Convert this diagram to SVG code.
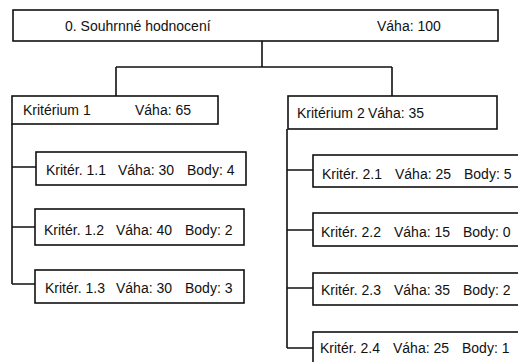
<svg xmlns="http://www.w3.org/2000/svg" width="518" height="362" viewBox="0 0 518 362">
<style>
.box{fill:#fff;stroke:#111;stroke-width:1.6}
.ln{fill:none;stroke:#111;stroke-width:1.6}
text{font-family:"Liberation Sans",Arial,sans-serif;font-size:14px;fill:#111}
</style>
<rect width="518" height="362" fill="#fff"/>
<g id="connectors">
<path class="ln" d="M262,41 V67 M116,67 H392 M116,67 V96 M392,67 V96"/>
<path class="ln" d="M12,124 V284 M12,167 H36 M12,227 H35 M12,284 H35"/>
<path class="ln" d="M287,129 V348 M287,170 H313 M287,230 H313 M287,288 H313 M287,348 H313"/>
</g>
<g id="n0">
<rect class="box" x="13" y="10" width="485" height="31"/>
<text x="65" y="31">0. Souhrnné hodnocení</text>
<text x="377" y="31">Váha: 100</text>
</g>
<g id="k1">
<rect class="box" x="12" y="96" width="206" height="28"/>
<text x="23" y="115">Kritérium 1</text>
<text x="135" y="115">Váha: 65</text>
</g>
<g id="k2">
<rect class="box" x="288" y="96" width="209" height="33"/>
<text x="297" y="118">Kritérium 2</text>
<text x="368" y="118">Váha: 35</text>
</g>
<g id="k11">
<rect class="box" x="36" y="152" width="210" height="33"/>
<text x="46" y="175">Kritér. 1.1</text><text x="118" y="175">Váha: 30</text><text x="187" y="175">Body: 4</text>
</g>
<g id="k12">
<rect class="box" x="35" y="209" width="209" height="36"/>
<text x="44" y="235">Kritér. 1.2</text><text x="116" y="235">Váha: 40</text><text x="185" y="235">Body: 2</text>
</g>
<g id="k13">
<rect class="box" x="35" y="270" width="209" height="33"/>
<text x="45" y="293">Kritér. 1.3</text><text x="116" y="293">Váha: 30</text><text x="185" y="293">Body: 3</text>
</g>
<g id="k21">
<rect class="box" x="313" y="155" width="220" height="32"/>
<text x="322" y="179">Kritér. 2.1</text><text x="395" y="179">Váha: 25</text><text x="464" y="179">Body: 5</text>
</g>
<g id="k22">
<rect class="box" x="313" y="213" width="220" height="33"/>
<text x="321" y="237">Kritér. 2.2</text><text x="394" y="237">Váha: 15</text><text x="463" y="237">Body: 0</text>
</g>
<g id="k23">
<rect class="box" x="313" y="273" width="220" height="32"/>
<text x="321" y="295">Kritér. 2.3</text><text x="394" y="295">Váha: 35</text><text x="463" y="295">Body: 2</text>
</g>
<g id="k24">
<rect class="box" x="313" y="332" width="220" height="40"/>
<text x="320" y="353">Kritér. 2.4</text><text x="393" y="353">Váha: 25</text><text x="462" y="353">Body: 1</text>
</g>
</svg>
